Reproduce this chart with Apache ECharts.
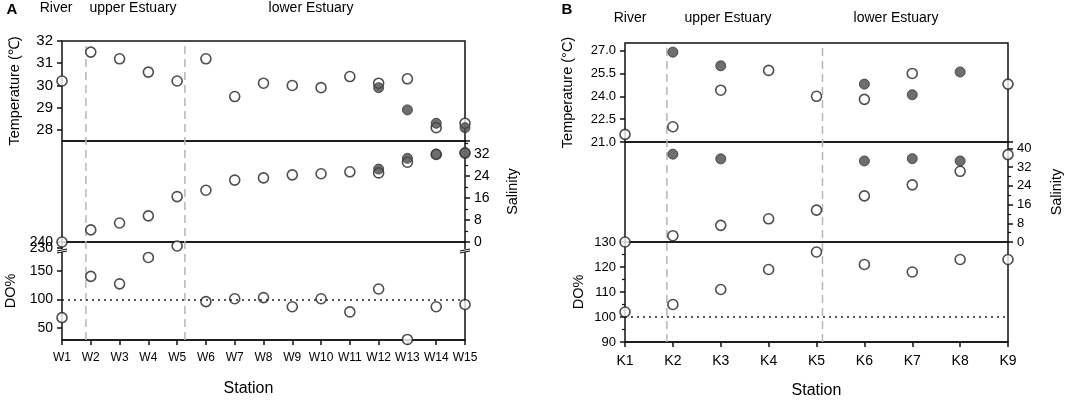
<!DOCTYPE html>
<html><head><meta charset="utf-8">
<script src="https://cdn.jsdelivr.net/npm/echarts@6/dist/echarts.min.js"></script>
<style>html,body{margin:0;padding:0;background:#fff}#c{width:1084px;height:400px}</style>
</head><body><div id="c"></div>
<script>
// ---------- Panel A data ----------
const stationsA = ['W1','W2','W3','W4','W5','W6','W7','W8','W9','W10','W11','W12','W13','W14','W15'];
const tempOpenA   = [30.2,31.5,31.2,30.6,30.2,31.2,29.5,30.1,30.0,29.9,30.4,30.1,30.3,28.1,28.3];
const tempFilledA = [null,null,null,null,null,null,null,null,null,null,null,29.9,28.9,28.3,28.1];
const salOpenA    = [0,4.4,6.9,9.5,16.5,18.8,22.5,23.3,24.4,24.8,25.5,25.1,29.0,31.8,32.3];
const salFilledA  = [null,null,null,null,null,null,null,null,null,null,null,26.5,30.4,32.0,32.5];
const doA         = [68,140,127,173,233,96,101,103,87,101,78,118,30,87,91];
const zoneBoundsA = [0.83, 4.27];
const tempTicksA  = [28,29,30,31,32];
const doTicksA    = [50,100,150,240];
const doTicksUpperA = [230];

// ---------- Panel B data ----------
const stationsB = ['K1','K2','K3','K4','K5','K6','K7','K8','K9'];
const tempOpenB   = [21.5,22.0,24.4,25.7,24.0,23.8,25.5,null,24.8];
const tempFilledB = [null,26.9,26.0,null,null,24.8,24.1,25.6,null];
const salOpenB    = [0,2.7,7.1,9.9,13.6,19.7,24.4,30.2,37.3];
const salFilledB  = [null,37.5,35.5,null,null,34.6,35.6,34.6,null];
const doB         = [102,105,111,119,126,121,118,123,123];
const zoneBoundsB = [0.875, 4.125];
const tempTicksB  = [21,22.5,24,25.5,27];

const zoneNames = ['River','upper Estuary','lower Estuary'];
const doReference = 100;

const FONT = "'Liberation Sans', Arial, sans-serif";
const BLACK = '#111';

function pairs(arr){ return arr.map((v,i)=> v==null ? null : [i,v]).filter(d=>d); }

const grids = [], xAxes = [], yAxes = [], series = [];

function addGrid(g){ grids.push(g); return grids.length-1; }

function panel(cfg){
  const n = cfg.stations.length;
  const gT = addGrid({left:cfg.left, width:cfg.width, top:cfg.tops[0], height:cfg.tops[1]-cfg.tops[0], show:true, borderColor:BLACK, borderWidth:1.5});
  const gM = addGrid({left:cfg.left, width:cfg.width, top:cfg.tops[1], height:cfg.tops[2]-cfg.tops[1], show:true, borderColor:BLACK, borderWidth:1.5});
  const gB = addGrid({left:cfg.left, width:cfg.width, top:cfg.tops[2], height:cfg.tops[3]-cfg.tops[2], show:true, borderColor:BLACK, borderWidth:1.5});
  const gO = addGrid({left:cfg.left, width:cfg.width, top:cfg.tops[0], height:cfg.tops[3]-cfg.tops[0], show:false});

  const xBase = {type:'value', min:0, max:n-1, interval:1, splitLine:{show:false}};
  const xT = xAxes.push(Object.assign({gridIndex:gT, show:false}, xBase))-1;
  const xM = xAxes.push(Object.assign({gridIndex:gM, show:false}, xBase))-1;
  const xB = xAxes.push(Object.assign({gridIndex:gB, show:true,
    axisLine:{show:true, onZero:false, lineStyle:{color:BLACK, width:1.5}},
    axisTick:{show:true, length:5, lineStyle:{color:BLACK, width:1.5}},
    axisLabel:{color:'#000', fontFamily:FONT, fontSize:cfg.xFont, margin:12, formatter:v=>cfg.stations[v]||''},
    name:'Station', nameLocation:'middle', nameGap:41,
    nameTextStyle:{color:'#000', fontFamily:FONT, fontSize:16, padding:cfg.stationPad}
  }, xBase))-1;
  const xO = xAxes.push(Object.assign({gridIndex:gO, show:false}, xBase))-1;

  const tickStyle = {show:true, length:5, lineStyle:{color:BLACK, width:1.5}};
  const minorStyle = {show:true, splitNumber:2, length:3, lineStyle:{color:BLACK, width:1.2}};
  const nameStyle = {color:'#000', fontFamily:FONT, fontSize:14.5};
  const noLine = {show:false, onZero:false};

  const yT = yAxes.push(Object.assign({gridIndex:gT, type:'value', position:'left',
    axisLine:noLine, splitLine:{show:false},
    axisTick:Object.assign({customValues:cfg.tempTicks}, tickStyle),
    axisLabel:{customValues:cfg.tempTicks, color:'#000', fontFamily:FONT, fontSize:cfg.tempFont, margin:9, formatter:cfg.tempFmt},
    name:cfg.tempName, nameLocation:'middle', nameRotate:90, nameGap:cfg.tempGap, nameTextStyle:nameStyle
  }, cfg.tempRange))-1;

  const yM = yAxes.push({gridIndex:gM, type:'value', position:'right', min:0, max:cfg.salMax, interval:8,
    axisLine:noLine, splitLine:{show:false},
    axisTick:tickStyle, minorTick:minorStyle,
    axisLabel:{showMaxLabel:false, color:'#000', fontFamily:FONT, fontSize:cfg.salFont, margin:9},
    name:'Salinity', nameLocation:'middle', nameRotate:90, nameGap:cfg.salGap, nameTextStyle:nameStyle
  })-1;

  const yB = yAxes.push(Object.assign({gridIndex:gB, type:'value', position:'left',
    axisLine:noLine, splitLine:{show:false},
    name:'DO%', nameLocation:'middle', nameRotate:90, nameGap:cfg.doGap, nameTextStyle:nameStyle
  }, cfg.doAxis))-1;

  if (cfg.doAxisExtra) {
    yAxes.push(Object.assign({gridIndex:gB, type:'value', position:'left',
      axisLine:noLine, splitLine:{show:false}}, cfg.doAxisExtra));
  }

  const yO = yAxes.push({gridIndex:gO, type:'value', min:0, max:1, show:false})-1;

  cfg.bounds.forEach(b=>{
    series.push({type:'line', xAxisIndex:xO, yAxisIndex:yO, data:[[b,0],[b,1]], showSymbol:false, symbol:'none', silent:true,
      lineStyle:{color:'#b5b5b5', width:1.5, type:[8,5]}, z:1});
  });

  const openStyle = {color:'#fff', borderColor:'#222', borderWidth:1.6};
  const fillStyle = {color:'#4a4a4a', borderColor:'#333', borderWidth:1};
  const sz = 10;
  series.push({type:'scatter', xAxisIndex:xT, yAxisIndex:yT, data:pairs(cfg.tempOpen), symbolSize:sz, itemStyle:openStyle, z:3});
  series.push({type:'scatter', xAxisIndex:xT, yAxisIndex:yT, data:pairs(cfg.tempFilled), symbolSize:sz, itemStyle:fillStyle, z:4});
  series.push({type:'scatter', xAxisIndex:xM, yAxisIndex:yM, data:pairs(cfg.salOpen), symbolSize:sz, itemStyle:openStyle, z:3});
  series.push({type:'scatter', xAxisIndex:xM, yAxisIndex:yM, data:pairs(cfg.salFilled), symbolSize:sz, itemStyle:fillStyle, z:4});
  series.push({type:'scatter', xAxisIndex:xB, yAxisIndex:yB, data:pairs(cfg.dO), symbolSize:sz, itemStyle:openStyle, z:3,
    markLine:{silent:true, symbol:['none','none'], label:{show:false},
      lineStyle:{color:'#222', width:1.5, type:[2,4]}, data:[{yAxis:doReference}]}});
}

const doBreakA = [{start:182, end:222, gap:0}];

panel({
  stations:stationsA, left:62, width:403, tops:[41,141,242,340], xFont:12, stationPad:[0,30,0,0],
  tempRange:{min:27.5, max:32}, tempTicks:tempTicksA, tempFont:15, tempFmt:v=>String(v),
  tempName:'Temperature (℃)', tempGap:40,
  salMax:36.7, salFont:14, salGap:40,
  doAxis:{min:29, max:240,
    breaks:doBreakA, breakArea:{show:false},
    axisTick:{show:true, length:5, customValues:doTicksA, lineStyle:{color:BLACK, width:1.5}},
    axisLabel:{customValues:doTicksA, hideOverlap:false, showMaxLabel:true, color:'#000', fontFamily:FONT, fontSize:14, margin:9}},
  doAxisExtra:{min:29, max:240,
    breaks:doBreakA, breakArea:{show:false},
    axisTick:{show:true, length:5, customValues:doTicksUpperA, lineStyle:{color:BLACK, width:1.5}},
    axisLabel:{customValues:doTicksUpperA, color:'#000', fontFamily:FONT, fontSize:14, margin:9}},
  doGap:44,
  tempOpen:tempOpenA, tempFilled:tempFilledA, salOpen:salOpenA, salFilled:salFilledA, dO:doA,
  bounds:zoneBoundsA
});

panel({
  stations:stationsB, left:625, width:383, tops:[43,142,242,342], xFont:14, stationPad:[0,0,0,0],
  tempRange:{min:21, max:27.5}, tempTicks:tempTicksB, tempFont:13, tempFmt:v=>v.toFixed(1),
  tempName:'Temperature (°C)', tempGap:50,
  salMax:42.7, salFont:13, salGap:41,
  doAxis:{min:90, max:130, interval:10,
    axisTick:{show:true, length:5, lineStyle:{color:BLACK, width:1.5}},
    minorTick:{show:true, splitNumber:2, length:3, lineStyle:{color:BLACK, width:1.2}},
    axisLabel:{color:'#000', fontFamily:FONT, fontSize:13, margin:9}},
  doGap:39,
  tempOpen:tempOpenB, tempFilled:tempFilledB, salOpen:salOpenB, salFilled:salFilledB, dO:doB,
  bounds:zoneBoundsB
});

function txt(x,y,s,opt){
  return Object.assign({type:'text', x:x, y:y, silent:true,
    style:Object.assign({text:s, fill:'#000', font:'14px '+FONT, textAlign:'center', textVerticalAlign:'middle'}, opt||{})});
}
// small axis-break marks on the DO axis of panel A
function breakMark(x){
  return {type:'group', x:x, y:251, silent:true, z:100, children:[
    {type:'rect', shape:{x:-2, y:-2, width:4, height:3}, style:{fill:'#fff'}},
    {type:'line', shape:{x1:-5, y1:0, x2:5, y2:-2}, style:{stroke:BLACK, lineWidth:1.2}},
    {type:'line', shape:{x1:-5, y1:2, x2:5, y2:0}, style:{stroke:BLACK, lineWidth:1.2}}
  ]};
}
const graphics = [
  txt(12,10,'A',{font:'bold 15px '+FONT}),
  txt(56,8,zoneNames[0]), txt(133,8,zoneNames[1]), txt(311,8,zoneNames[2]),
  txt(567,10,'B',{font:'bold 15px '+FONT}),
  txt(630,18,zoneNames[0]), txt(728,18,zoneNames[1]), txt(896,18,zoneNames[2]),
  breakMark(62), breakMark(465)
];

const chart = echarts.init(document.getElementById('c'));
chart.setOption({
  animation:false,
  textStyle:{fontFamily:FONT},
  grid:grids, xAxis:xAxes, yAxis:yAxes, series:series, graphic:graphics
});
</script></body></html>
